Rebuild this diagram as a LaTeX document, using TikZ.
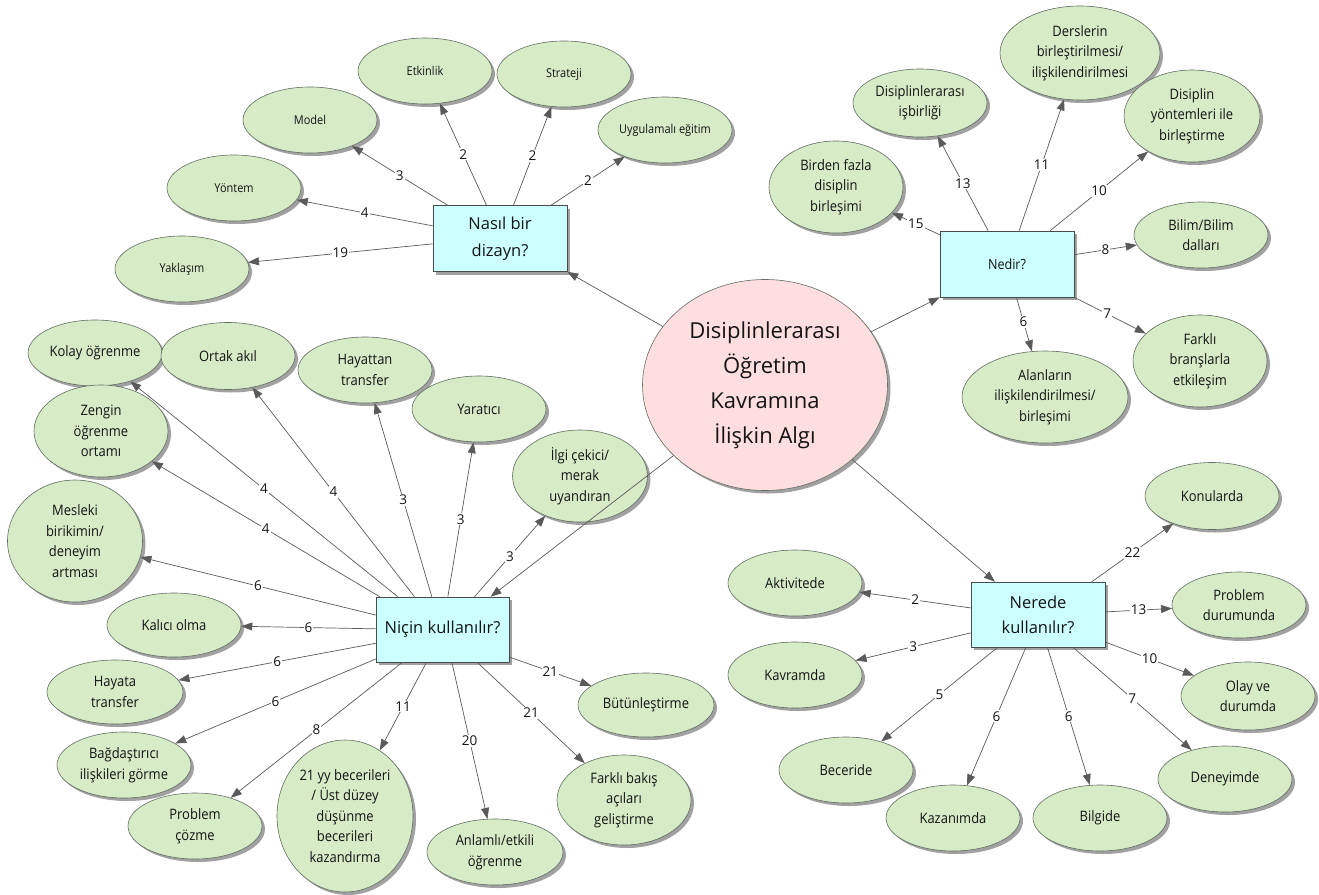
\documentclass[tikz,border=0pt]{standalone}
\usepackage{fontspec}
\setmainfont{Open Sans}
\newfontfamily\narrowfont[FakeStretch=0.9]{Open Sans}
\usetikzlibrary{shapes.geometric,arrows.meta,shadows,calc}
\definecolor{cgreen}{RGB}{215,235,198}
\definecolor{ccyan}{RGB}{204,255,255}
\definecolor{cpink}{RGB}{255,222,224}
\definecolor{cborder}{RGB}{100,110,100}
\definecolor{cline}{RGB}{90,90,90}
\definecolor{ctext}{RGB}{20,20,20}
\definecolor{cshadow}{RGB}{145,145,145}
\begin{document}
\begin{tikzpicture}[x=1pt,y=-1pt,
  shad/.style={drop shadow={shadow xshift=3pt,shadow yshift=-3pt,fill=cshadow,opacity=0.85}},
  concept/.style={ellipse,draw=cborder,line width=0.6pt,fill=cgreen,shad,inner xsep=-20pt,inner ysep=-10pt,align=center,text=ctext,font=\narrowfont\fontsize{14.4}{20.5}\selectfont,minimum width=134pt,minimum height=66pt},
  sconcept/.style={concept,font=\narrowfont\fontsize{12.2}{16}\selectfont},
  question/.style={rectangle,draw=cborder!70!black,line width=0.6pt,fill=ccyan,shad,inner sep=0pt,align=center,text=ctext,minimum width=134pt,minimum height=66pt,font=\fontsize{16.5}{27}\selectfont},
  link/.style={draw=cline,line width=0.7pt,-{Triangle[length=11pt,width=8pt]}},
  num/.style={fill=white,inner sep=1pt,text=ctext,font=\fontsize{13.5}{13.5}\selectfont},
]
\fill[white] (0,0) rectangle (1319,894);
\useasboundingbox (0,0) rectangle (1319,894);

% central concept
\node[ellipse,draw=cborder,line width=0.6pt,fill=cpink,shad,inner sep=0pt,minimum width=245pt,minimum height=211pt,align=center,text=ctext,font=\fontsize{22}{35}\selectfont] (center) at (765,385) {Disiplinlerarası\\Öğretim\\Kavramına\\İlişkin Algı};

% question boxes
\node[question] (nasil) at (500,238.5) {Nasıl bir\\dizayn?};
\node[question,font=\narrowfont\fontsize{14}{16}\selectfont] (nedir) at (1007,264) {Nedir?};
\node[question,minimum width=133pt,minimum height=65pt] (nicin) at (442.5,629.5) {Niçin kullanılır?};
\node[question,minimum height=65pt,font=\fontsize{16.5}{25}\selectfont] (nerede) at (1038,614.5) {Nerede\\kullanılır?};

% Nasil cluster
\node[sconcept] (yaklasim) at (182,269) {Yaklaşım};
\node[sconcept] (yontem) at (234,188) {Yöntem};
\node[sconcept] (model) at (310,120) {Model};
\node[sconcept] (etkinlik) at (425,71) {Etkinlik};
\node[sconcept] (strateji) at (564,74) {Strateji};
\node[sconcept] (uygulamali) at (665,130) {Uygulamalı eğitim};

% Nedir cluster
\node[concept,minimum height=92pt] (birden) at (836,187) {Birden fazla\\disiplin\\birleşimi};
\node[concept,minimum height=68pt] (isbirligi) at (920,103) {Disiplinlerarası\\işbirliği};
\node[concept,minimum width=160pt,minimum height=94pt] (derslerin) at (1080,53) {Derslerin\\birleştirilmesi/\\ilişkilendirilmesi};
\node[concept,minimum width=136pt,minimum height=92pt] (yontemleri) at (1192,116) {Disiplin\\yöntemleri ile\\birleştirme};
\node[concept] (bilim) at (1201,235) {Bilim/Bilim\\dalları};
\node[concept,minimum height=92pt] (farklibr) at (1200,361) {Farklı\\branşlarla\\etkileşim};
\node[concept,minimum width=166pt,minimum height=92pt] (alanlar) at (1045,397) {Alanların\\ilişkilendirilmesi/\\birleşimi};

% Nicin cluster
\node[concept] (kolay) at (95,353) {Kolay öğrenme};
\node[concept,minimum height=67pt] (ortak) at (228,356) {Ortak akıl};
\node[concept] (hayattan) at (365,370) {Hayattan\\transfer};
\node[concept] (yaratici) at (479,409) {Yaratıcı};
\node[concept,minimum height=92pt] (zengin) at (101,431) {Zengin\\öğrenme\\ortamı};
\node[concept,minimum width=135pt,minimum height=92pt] (ilgi) at (580,476) {İlgi çekici/\\merak\\uyandıran};
\node[concept,minimum width=135pt,minimum height=122pt] (mesleki) at (75,541) {Mesleki\\birikimin/\\deneyim\\artması};
\node[concept,minimum height=64pt] (kalici) at (174,625) {Kalıcı olma};
\node[concept,minimum width=136pt,minimum height=64pt] (hayata) at (115,692) {Hayata\\transfer};
\node[concept] (bagdastirici) at (124,765) {Bağdaştırıcı\\ilişkileri görme};
\node[concept] (problemc) at (195,826) {Problem\\çözme};
\node[concept,minimum width=136pt,minimum height=152pt] (yy) at (345,816) {21 yy becerileri\\/ Üst düzey\\düşünme\\becerileri\\kazandırma};
\node[concept,minimum width=136pt] (anlamli) at (495,852) {Anlamlı/etkili\\öğrenme};
\node[concept,minimum height=90pt] (farklibakis) at (624,800) {Farklı bakış\\açıları\\geliştirme};
\node[concept,minimum width=136pt,minimum height=64pt] (butun) at (646,705) {Bütünleştirme};

% Nerede cluster
\node[concept,minimum height=67pt] (konular) at (1212,496) {Konularda};
\node[concept] (aktivite) at (795,583) {Aktivitede};
\node[concept] (kavram) at (795,675) {Kavramda};
\node[concept] (beceri) at (846,770) {Beceride};
\node[concept] (kazanim) at (953,818) {Kazanımda};
\node[concept] (bilgi) at (1100,818) {Bilgide};
\node[concept] (deney) at (1225,779) {Deneyimde};
\node[concept,minimum height=68pt] (olay) at (1248,696) {Olay ve\\durumda};
\node[concept] (problemd) at (1239,605) {Problem\\durumunda};

% links from Nasil
\draw[link] ($(nasil.north west)!0.11!(nasil.north east)$) -- (model) node[num,midway]{3};
\draw[link] ($(nasil.north west)!0.40!(nasil.north east)$) -- (etkinlik) node[num,midway]{2};
\draw[link] ($(nasil.north west)!0.60!(nasil.north east)$) -- (strateji) node[num,midway]{2};
\draw[link] ($(nasil.north west)!0.88!(nasil.north east)$) -- (uygulamali) node[num,midway]{2};
\draw[link] ($(nasil.north west)!0.31!(nasil.south west)$) -- (yontem) node[num,midway]{4};
\draw[link] ($(nasil.north west)!0.58!(nasil.south west)$) -- (yaklasim) node[num,midway]{19};

% links from Nedir
\draw[link] ($(nedir.north west)!0.36!(nedir.north east)$) -- (isbirligi) node[num,midway]{13};
\draw[link] ($(nedir.north west)!0.59!(nedir.north east)$) -- (derslerin) node[num,midway]{11};
\draw[link] ($(nedir.north west)!0.82!(nedir.north east)$) -- (yontemleri) node[num,midway]{10};
\draw[link] ($(nedir.north west)!0.06!(nedir.south west)$) -- (birden) node[num,midway]{15};
\draw[link] ($(nedir.north east)!0.36!(nedir.south east)$) -- (bilim) node[num,midway]{8};
\draw[link] ($(nedir.south west)!0.57!(nedir.south east)$) -- (alanlar) node[num,pos=0.45]{6};
\draw[link] (nedir.south east) -- (farklibr) node[num,pos=0.46]{7};

% links from Nicin
\draw[link] ($(nicin.north west)!0.03!(nicin.north east)$) -- (zengin) node[num,midway]{4};
\draw[link] ($(nicin.north west)!0.165!(nicin.north east)$) -- (kolay) node[num,midway]{4};
\draw[link] ($(nicin.north west)!0.29!(nicin.north east)$) -- (ortak) node[num,midway]{4};
\draw[link] ($(nicin.north west)!0.42!(nicin.north east)$) -- (hayattan) node[num,midway]{3};
\draw[link] ($(nicin.north west)!0.54!(nicin.north east)$) -- (yaratici) node[num,midway]{3};
\draw[link] ($(nicin.north west)!0.74!(nicin.north east)$) -- (ilgi) node[num,midway]{3};
\draw[link] ($(nicin.north west)!0.28!(nicin.south west)$) -- (mesleki) node[num,midway]{6};
\draw[link] ($(nicin.north west)!0.49!(nicin.south west)$) -- (kalici) node[num,midway]{6};
\draw[link] ($(nicin.north west)!0.71!(nicin.south west)$) -- (hayata) node[num,midway]{6};
\draw[link] ($(nicin.north west)!0.95!(nicin.south west)$) -- (bagdastirici) node[num,midway]{6};
\draw[link] ($(nicin.south west)!0.20!(nicin.south east)$) -- (problemc) node[num,midway]{8};
\draw[link] ($(nicin.south west)!0.38!(nicin.south east)$) -- (yy) node[num,midway]{11};
\draw[link] ($(nicin.south west)!0.57!(nicin.south east)$) -- (anlamli) node[num,midway]{20};
\draw[link] ($(nicin.south west)!0.76!(nicin.south east)$) -- (farklibakis) node[num,midway]{21};
\draw[link] ($(nicin.north east)!0.92!(nicin.south east)$) -- (butun) node[num,midway]{21};

% links from Nerede
\draw[link] ($(nerede.north west)!0.90!(nerede.north east)$) -- (konular) node[num,midway]{22};
\draw[link] ($(nerede.north west)!0.40!(nerede.south west)$) -- (aktivite) node[num,midway]{2};
\draw[link] ($(nerede.north west)!0.78!(nerede.south west)$) -- (kavram) node[num,midway]{3};
\draw[link] ($(nerede.south west)!0.20!(nerede.south east)$) -- (beceri) node[num,midway]{5};
\draw[link] ($(nerede.south west)!0.41!(nerede.south east)$) -- (kazanim) node[num,midway]{6};
\draw[link] ($(nerede.south west)!0.57!(nerede.south east)$) -- (bilgi) node[num,midway]{6};
\draw[link] ($(nerede.south west)!0.76!(nerede.south east)$) -- (deney) node[num,midway]{7};
\draw[link] ($(nerede.north east)!0.92!(nerede.south east)$) -- (olay) node[num,midway]{10};
\draw[link] ($(nerede.north east)!0.46!(nerede.south east)$) -- (problemd) node[num,midway]{13};

% links from the central concept
\draw[link] (center) -- (nasil.south east);
\draw[link] (center) -- (nedir.south west);
\draw[link] (center) -- ($(nicin.north west)!0.86!(nicin.north east)$);
\draw[link] (center) -- ($(nerede.north west)!0.18!(nerede.north east)$);
\end{tikzpicture}
\end{document}
